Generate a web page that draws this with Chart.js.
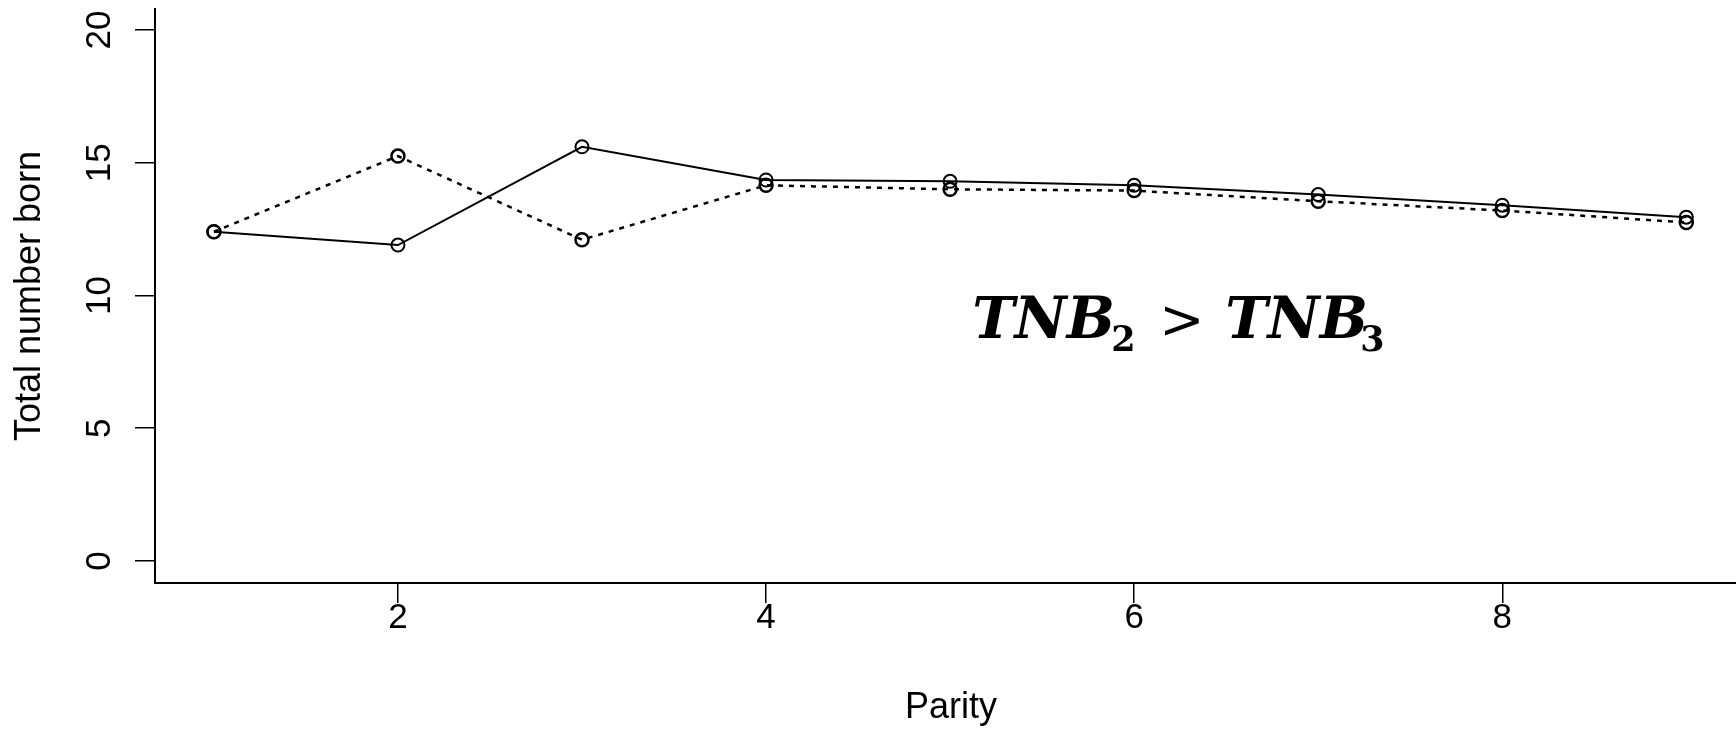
<!DOCTYPE html>
<html>
<head>
<meta charset="utf-8">
<script src="https://cdn.jsdelivr.net/npm/chart.js@4.4.1/dist/chart.umd.min.js"></script>
<style>
  html, body { margin: 0; padding: 0; background: #fff; overflow: hidden; }
  #wrap { width: 1736px; height: 729px; }
  canvas { display: block; }
</style>
</head>
<body>
<div id="wrap"><canvas id="myChart" width="1736" height="729"></canvas></div>
<script>
var parity = [1, 2, 3, 4, 5, 6, 7, 8, 9];
var solidValues = [12.4, 11.9, 15.6, 14.35, 14.3, 14.15, 13.8, 13.4, 12.95];
var dashedValues = [12.4, 15.25, 12.1, 14.15, 14.0, 13.95, 13.55, 13.2, 12.75];
var xTicks = [2, 4, 6, 8];
var yTicks = [0, 5, 10, 15, 20];

var fontName = "'Liberation Sans', Arial, sans-serif";

function toPoints(values) {
    return values.map(function (v, i) { return { x: parity[i], y: v }; });
}

// axis labels, rotated y ticks and the inequality note
var axisText = {
    id: "axisText",
    afterDraw: function (chart) {
        var c = chart.ctx;
        var xs = chart.scales.x, ys = chart.scales.y;
        var area = chart.chartArea;
        c.save();
        c.fillStyle = "#000";
        c.font = "35px " + fontName;
        c.textAlign = "center";
        c.textBaseline = "middle";
        xTicks.forEach(function (t) {
            c.fillText(String(t), xs.getPixelForValue(t), 618);
        });
        c.font = "36px " + fontName;
        c.fillText("Parity", xs.getPixelForValue(5) + 1, 708);

        c.font = "35px " + fontName;
        yTicks.forEach(function (t) {
            c.save();
            c.translate(100, ys.getPixelForValue(t));
            c.rotate(-Math.PI / 2);
            c.fillText(String(t), 0, 0);
            c.restore();
        });
        c.save();
        c.translate(30, (area.top + area.bottom) / 2);
        c.rotate(-Math.PI / 2);
        c.font = "36px " + fontName;
        c.fillText("Total number born", 0, 0);
        c.restore();

        // TNB2 > TNB3
        var x = xs.getPixelForValue(5.12);
        var base = ys.getPixelForValue(8.4);
        c.textAlign = "left";
        c.textBaseline = "alphabetic";
        var big = "bold italic 57px 'DejaVu Serif', serif";
        var sub = "bold 35px 'DejaVu Serif', serif";
        c.font = big;
        c.fillText("TNB", x, base);
        c.font = sub;
        c.fillText("2", x + 139, base + 13);
        c.font = "54px 'DejaVu Serif', serif";
        c.fillText(">", x + 187, base);
        c.font = big;
        c.fillText("TNB", x + 253, base);
        c.font = sub;
        c.fillText("3", x + 388, base + 13);
        c.restore();
    }
};

new Chart("myChart", {
    type: "line",
    data: {
        datasets: [{
            data: toPoints(solidValues),
            borderColor: "#000",
            borderWidth: 2,
            pointStyle: "circle",
            pointRadius: 6.5,
            pointBorderWidth: 2,
            pointBorderColor: "#000",
            pointBackgroundColor: "rgba(0,0,0,0)",
            tension: 0
        }, {
            data: toPoints(dashedValues),
            borderColor: "#000",
            borderWidth: 2.5,
            borderDash: [5, 6],
            pointStyle: "circle",
            pointRadius: 6.5,
            pointBorderWidth: 2.5,
            pointBorderColor: "#000",
            pointBackgroundColor: "rgba(0,0,0,0)",
            tension: 0
        }]
    },
    options: {
        responsive: false,
        animation: false,
        layout: { autoPadding: false, padding: { top: 9, left: 0, right: 0, bottom: 0 } },
        plugins: { legend: { display: false }, tooltip: { enabled: false } },
        scales: {
            x: {
                type: "linear",
                min: 0.68,
                max: 9.27,
                afterBuildTicks: function (s) { s.ticks = xTicks.map(function (v) { return { value: v }; }); },
                afterFit: function (s) { s.height = 146; },
                ticks: { display: false },
                grid: { display: true, drawOnChartArea: false, drawTicks: true, tickLength: 20, color: "#000", lineWidth: 1.5 },
                border: { display: true, color: "#000", width: 2 }
            },
            y: {
                type: "linear",
                min: -0.829,
                max: 20.79,
                afterBuildTicks: function (s) { s.ticks = yTicks.map(function (v) { return { value: v }; }); },
                afterFit: function (s) { s.width = 155; },
                ticks: { display: false },
                grid: { display: true, drawOnChartArea: false, drawTicks: true, tickLength: 20, color: "#000", lineWidth: 1.5 },
                border: { display: true, color: "#000", width: 2 }
            }
        }
    },
    plugins: [axisText]
});
</script>
</body>
</html>
